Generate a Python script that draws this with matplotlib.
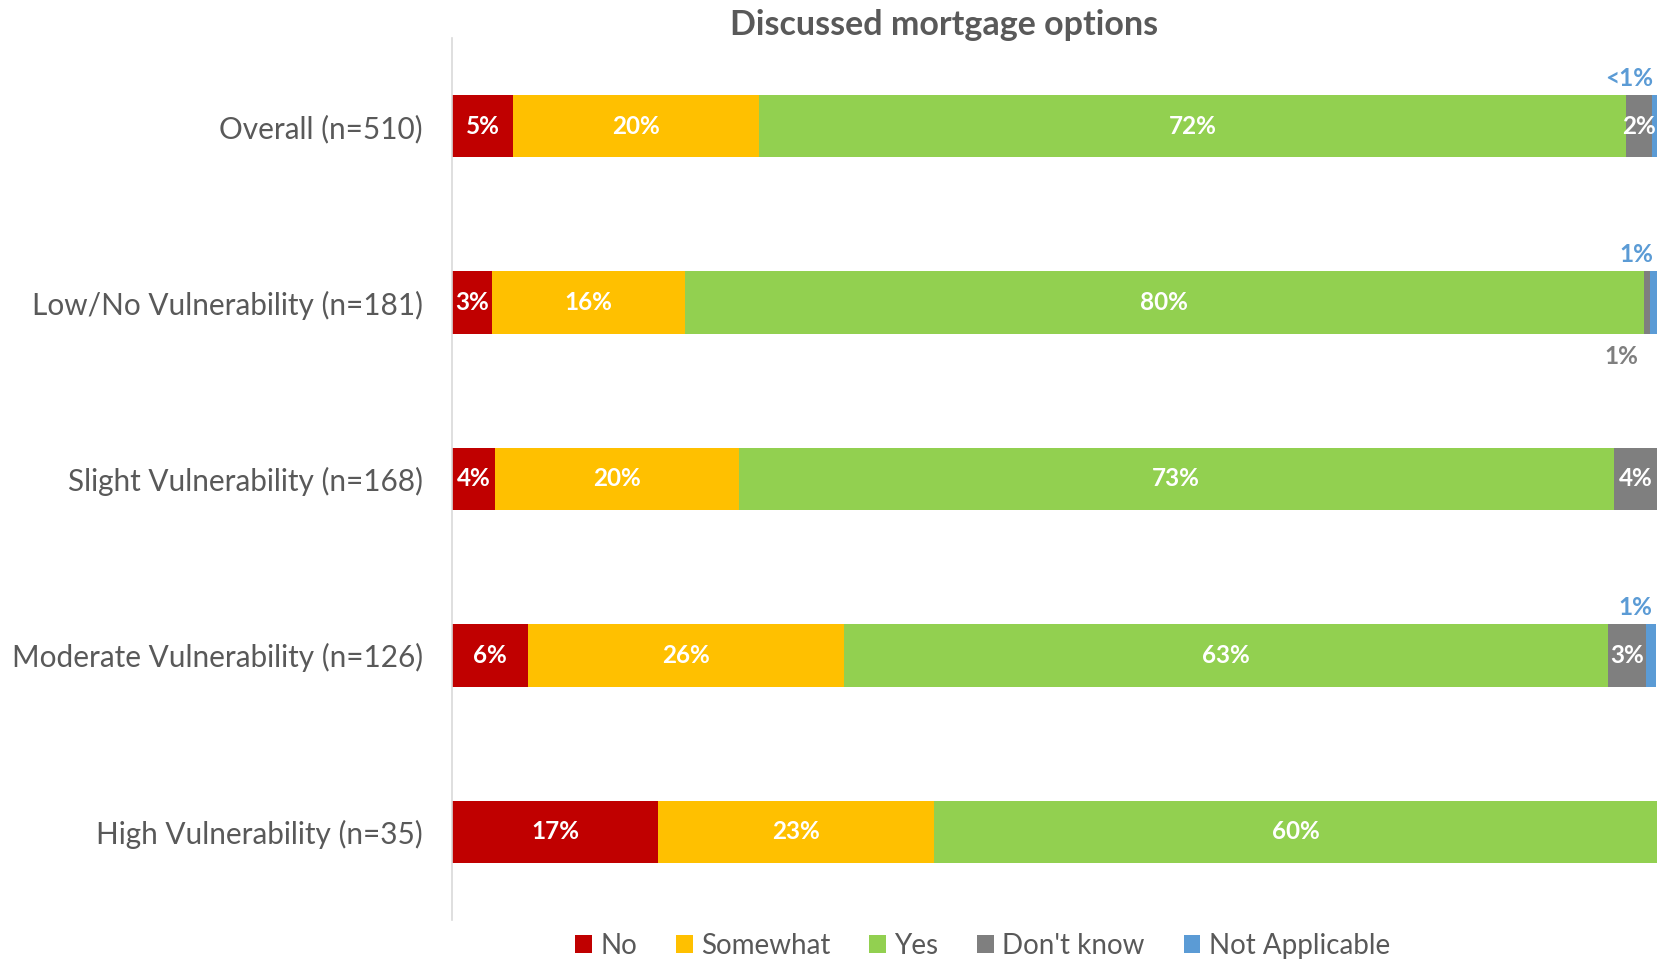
import numpy as np
import matplotlib.pyplot as plt

plt.rcParams['font.family'] = ['Lato', 'DejaVu Sans']

# Data (percent of respondents)
groups = ['Overall (n=510)', 'Low/No Vulnerability (n=181)', 'Slight Vulnerability (n=168)',
          'Moderate Vulnerability (n=126)', 'High Vulnerability (n=35)']
answers = ['No', 'Somewhat', 'Yes', "Don't know", 'Not Applicable']
no_vals = [5.1, 3.3, 3.6, 6.3, 17.1]
somewhat_vals = [20.4, 16.0, 20.2, 26.2, 22.9]
yes_vals = [71.9, 79.6, 72.6, 63.4, 60.0]
dk_vals = [2.2, 0.5, 3.6, 3.2, 0.0]
na_vals = [0.4, 0.6, 0.0, 0.8, 0.0]
no_labels = ['5%', '3%', '4%', '6%', '17%']
somewhat_labels = ['20%', '16%', '20%', '26%', '23%']
yes_labels = ['72%', '80%', '73%', '63%', '60%']
dk_labels = ['2%', '1%', '4%', '3%', '']
na_labels = ['<1%', '1%', '', '1%', '']

colors = ['#C00000', '#FFC000', '#92D050', '#7F7F7F', '#5B9BD5']
text_gray = '#595959'

series = [no_vals, somewhat_vals, yes_vals, dk_vals, na_vals]
labels = [no_labels, somewhat_labels, yes_labels, dk_labels, na_labels]

fig = plt.figure(figsize=(16.57, 9.6), dpi=100)
ax = fig.add_axes([0.2728, 0.0417, 0.7272, 0.9187])

y = np.arange(len(groups))
left = np.zeros(len(groups))
handles = []
for i, (vals, labs) in enumerate(zip(series, labels)):
    vals = np.array(vals)
    h = ax.barh(y, vals, left=left, height=0.354, color=colors[i], label=answers[i])
    handles.append(h)
    for j in range(len(groups)):
        if not labs[j]:
            continue
        end = left[j] + vals[j]
        if i == 4:
            # tiny slice: label above the bar, in series colour
            ax.text(end - 0.3, y[j] - 0.27, labs[j], ha='right', va='center',
                    color=colors[i], fontsize=17.5, fontweight='bold')
        elif i == 3 and vals[j] < 1:
            # tiny slice: label below the bar
            ax.text(end - 2.4, y[j] + 0.305, labs[j], ha='center', va='center',
                    color=colors[i], fontsize=17.5, fontweight='bold')
        else:
            ax.text(left[j] + vals[j] / 2, y[j], labs[j], ha='center', va='center',
                    color='white', fontsize=17.5, fontweight='bold')
    left += vals

ax.set_xlim(0, 100)
ax.set_ylim(len(groups) - 0.5, -0.5)
ax.set_yticks(y)
ax.set_yticklabels(groups, fontsize=21.4, color=text_gray)
ax.tick_params(axis='y', length=0, pad=21)
ax.set_xticks([])
for s in ['top', 'right', 'bottom']:
    ax.spines[s].set_visible(False)
ax.spines['left'].set_color('#D9D9D9')
ax.spines['left'].set_linewidth(1.2)

fig.text(0.5697, 0.974, 'Discussed mortgage options', ha='center', va='center',
         fontsize=24.5, fontweight='bold', color=text_gray)

leg = fig.legend(handles=handles, labels=answers, loc='center', bbox_to_anchor=(0.593, 0.015),
                 ncol=5, frameon=False, fontsize=20, handlelength=0.6, handleheight=0.6,
                 handletextpad=0.3, columnspacing=1.4)
for t in leg.get_texts():
    t.set_color(text_gray)

fig.savefig('out.png', dpi=100)
plt.close()
